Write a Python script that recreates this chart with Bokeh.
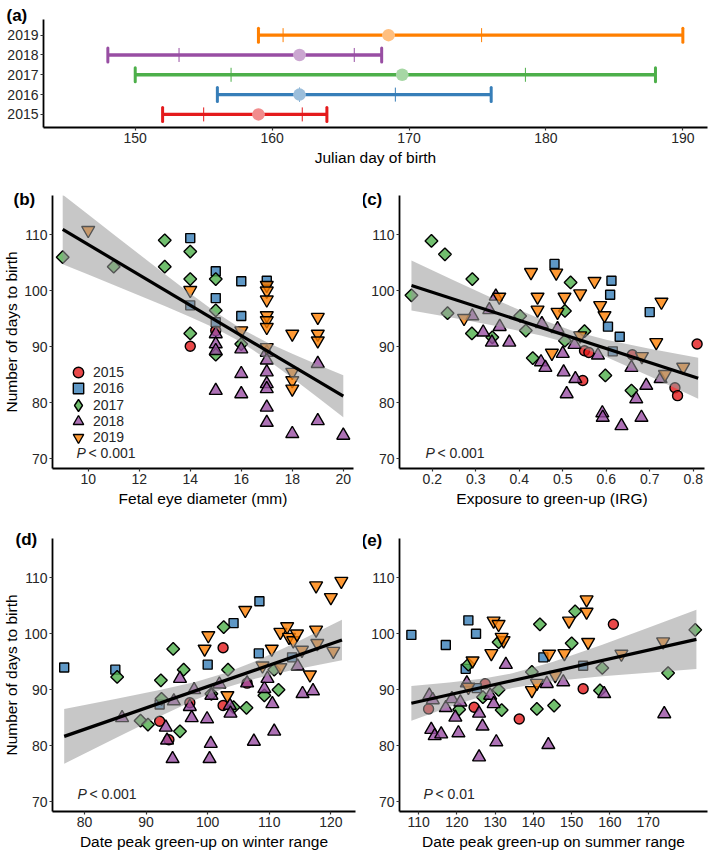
import math
from bokeh.plotting import figure
from bokeh.layouts import column, row
from bokeh.models import Range1d, FixedTicker, Label, Legend, LegendItem
from bokeh.core.properties import value
from bokeh.embed import file_html
from bokeh.resources import INLINE

FONT = "Liberation Sans"
TXT = "#262626"

# ---------------- shared categories ----------------
year_labels = ["2015", "2016", "2017", "2018", "2019"]
year_values = [2015, 2016, 2017, 2018, 2019]
year_pos = [1, 2, 3, 4, 5]
year_colors = ["#E41A1C", "#377EB8", "#4DAF4A", "#984EA3", "#FF7F00"]
year_markers = ["circle", "square", "square", "triangle", "inverted_triangle"]
year_angles = [0.0, 0.0, math.pi / 4, 0.0, 0.0]
year_sizes = [10, 9, 9, 13, 13]
legend_markers = ["circle", "square", "diamond", "triangle", "inverted_triangle"]
legend_boxes = [26, 26, 30, 26, 26]

# ---------------- panel (a): Julian day of birth ----------------
birth_min = [152, 156, 150, 148, 159]
birth_q1 = [155, 162, 157, 153.2, 160.8]
birth_med = [159, 162, 169.5, 162, 168.5]
birth_q3 = [162.2, 169, 178.5, 166, 175.3]
birth_max = [164, 176, 188, 168, 190]
birth_ticks = [150, 160, 170, 180, 190]

days_ticks = [70, 80, 90, 100, 110]

# ---------------- panel (b): fetal eye diameter ----------------
eye_mm = [14, 15,
          14, 14, 15, 15, 15, 16, 16, 17,
          9, 11, 13, 13, 14, 14, 14, 15, 15, 15, 16,
          15, 15, 15, 15, 16, 16, 16, 17, 17, 17, 17, 17, 17, 17, 18, 19, 19, 20,
          10, 14, 16, 17, 17, 17, 17, 17, 17, 17, 18, 18, 18, 18, 19, 19, 19]
days_b = [90.1, 92.9,
          109.4, 97.4, 103.5, 98.7, 94.4, 101.7, 95.5, 101.8,
          106.0, 104.3, 109.0, 104.3, 107.0, 102.1, 92.4, 102.1, 96.5, 88.6, 90.5,
          92.3, 90.5, 89.3, 82.2, 89.6, 85.2, 81.6, 89.0, 87.6, 85.5, 83.4, 82.5, 79.2, 76.5, 74.5, 87.0, 76.8, 74.2,
          110.8, 100.1, 92.9, 101.0, 100.0, 98.4, 95.6, 94.7, 93.5, 89.9, 92.3, 85.5, 84.0, 82.5, 95.3, 92.3, 91.1]
year_b = [2015] * 2 + [2016] * 8 + [2017] * 11 + [2018] * 18 + [2019] * 17
eye_fit_x = [9, 20]
eye_fit_y = [110.95, 81.2]
eye_band_x = [9, 10, 11, 12, 13, 14, 15, 16, 17, 18, 19, 20]
eye_band_lo = [104.75, 102.9, 101.05, 99.18, 97.28, 95.34, 93.26, 90.82, 87.8, 84.45, 80.97, 77.45]
eye_band_hi = [117.15, 113.6, 110.03, 106.5, 102.98, 99.52, 96.18, 93.22, 90.82, 88.77, 86.83, 84.95]
eye_ticks = [10, 12, 14, 16, 18, 20]

# ---------------- panel (c): IRG exposure ----------------
irg = [0.55, 0.56, 0.546, 0.66, 0.758, 0.764, 0.809,
       0.481, 0.612, 0.609, 0.604, 0.631, 0.615, 0.70,
       0.152, 0.198, 0.229, 0.235, 0.292, 0.291, 0.338, 0.402, 0.415, 0.431, 0.505, 0.505, 0.518, 0.55, 0.598, 0.658,
       0.292, 0.317, 0.337, 0.346, 0.331, 0.355, 0.377, 0.452, 0.45, 0.46, 0.488, 0.502, 0.50, 0.509, 0.527, 0.529,
       0.581, 0.591, 0.592, 0.635, 0.658, 0.669, 0.681, 0.692, 0.725,
       0.273, 0.354, 0.427, 0.442, 0.442, 0.485, 0.488, 0.475, 0.504, 0.54, 0.54, 0.573, 0.586, 0.596, 0.682,
       0.715, 0.727, 0.735, 0.777]
days_c = [89.3, 89.0, 84.0, 88.6, 82.7, 81.3, 90.5,
          104.8, 101.8, 99.3, 93.6, 91.8, 89.2, 96.2,
          99.2, 108.9, 106.5, 96.0, 102.1, 92.4, 91.7, 95.5, 92.9, 88.0, 96.4, 91.1, 101.5, 92.8, 84.9, 82.2,
          95.5, 92.6, 90.8, 99.0, 96.6, 93.6, 90.8, 94.1, 87.3, 86.3, 93.2, 85.5, 88.8, 81.6, 90.4, 84.3,
          88.5, 78.2, 77.4, 75.9, 86.3, 80.7, 77.4, 83.1, 84.3,
          95.1, 98.9, 103.3, 98.9, 96.6, 103.2, 96.2, 88.9, 98.9, 99.5, 92.0, 101.7, 97.4, 95.6, 88.3,
          90.8, 98.0, 85.1, 86.4]
year_c = [2015] * 7 + [2016] * 7 + [2017] * 16 + [2018] * 25 + [2019] * 19
irg_fit_x = [0.152, 0.8115]
irg_fit_y = [100.95, 84.4]
irg_band_x = [0.152, 0.25, 0.35, 0.45, 0.52, 0.6, 0.7, 0.8115]
irg_band_lo = [96.5, 95.13, 93.68, 92.03, 90.51, 88.17, 84.75, 80.75]
irg_band_hi = [105.4, 101.85, 98.28, 94.91, 92.91, 91.25, 89.65, 88.05]
irg_ticks = [0.2, 0.3, 0.4, 0.5, 0.6, 0.7, 0.8]

# ---------------- panel (d): peak green-up, winter range ----------------
winter = [92.2, 93.7, 97.1, 102.5, 102.5, 106.4,
          76.7, 85.0, 92.2, 100.0, 104.2, 108.3, 108.4, 113.7,
          85.3, 89.1, 90.3, 92.4, 92.5, 94.4, 95.5, 96.1, 100.6, 102.6, 103.3, 104.2, 106.3, 109.2, 110.8, 111.5,
          86.1, 93.2, 93.4, 94.3, 94.5, 95.5, 97.1, 97.4, 97.8, 99.9, 100.3, 100.5, 100.6, 101.9, 103.6, 103.7,
          106.4, 107.5, 109.2, 109.7, 110.5, 110.8, 114.6, 115.4, 117.1,
          99.5, 100.1, 103.2, 106.1, 108.9, 110.4, 111.8, 111.8, 112.9, 113.2, 113.9, 115.3, 117.6, 117.6, 117.8,
          116.6, 120.0, 120.4, 121.7, 114.5]
days_d = [84.4, 81.1, 87.7, 97.5, 87.2, 91.2,
          94.0, 93.6, 87.4, 94.5, 101.9, 96.5, 105.8, 95.8,
          92.3, 84.5, 83.8, 91.7, 88.4, 97.3, 82.6, 93.6, 89.3, 101.2, 93.6, 86.9, 86.8, 89.0, 93.6, 90.0,
          85.0, 83.3, 81.0, 77.7, 88.0, 92.0, 87.0, 85.0, 90.0, 84.8, 77.7, 80.4, 89.0, 91.0, 87.2, 85.8,
          91.2, 80.8, 90.2, 92.0, 87.5, 82.6, 94.2, 89.3, 89.8,
          97.3, 99.7, 89.0, 104.2, 94.3, 97.3, 100.3, 94.0, 101.3, 99.4, 98.8, 97.1, 108.6, 100.7, 98.3,
          92.7, 106.5, 96.9, 109.4, 100.0]
year_d = [2015] * 6 + [2016] * 8 + [2017] * 16 + [2018] * 25 + [2019] * 20
winter_fit_x = [76.7, 121.8]
winter_fit_y = [81.7, 98.9]
winter_band_x = [76.7, 85, 92, 98, 103, 108, 114, 121.8]
winter_band_lo = [76.8, 81.38, 85.17, 88.24, 90.44, 92.08, 93.59, 95.3]
winter_band_hi = [86.6, 88.36, 89.91, 91.42, 93.04, 95.22, 98.29, 102.5]
winter_ticks = [80, 90, 100, 110, 120]

# ---------------- panel (e): peak green-up, summer range ----------------
summer = [112.6, 124.5, 127.4, 136.3, 153.0, 160.9,
          108.1, 117.1, 123.0, 125.0, 122.3, 125.2, 142.6, 153.0,
          123.0, 120.6, 126.8, 130.9, 130.9, 131.7, 139.6, 140.9, 141.7, 145.4, 150.0, 150.9, 157.4, 158.0, 175.2, 182.3,
          112.8, 113.7, 113.3, 114.2, 115.9, 117.1, 118.7, 119.6, 120.4, 120.9, 122.6, 125.8, 126.7, 125.8, 128.7,
          129.6, 130.3, 132.8, 143.5, 143.9, 147.8, 158.5, 174.2,
          123.0, 124.1, 129.0, 129.6, 130.9, 132.2, 131.7, 139.6, 140.9, 144.1, 145.7, 148.1, 149.3, 153.9, 153.9,
          154.3, 163.0, 173.9]
days_e = [86.6, 86.9, 91.1, 84.8, 90.2, 101.7,
          99.8, 98.0, 102.4, 100.0, 93.75, 90.3, 95.8, 94.3,
          94.5, 86.5, 88.7, 98.5, 90.0, 86.4, 93.2, 86.6, 101.7, 87.2, 98.3, 104.0, 89.9, 93.9, 93.0, 100.7,
          89.0, 88.2, 82.9, 81.8, 82.1, 86.8, 88.4, 85.1, 82.3, 87.8, 91.2, 85.8, 83.5, 78.0, 89.0,
          87.5, 80.7, 94.5, 91.1, 80.2, 91.4, 89.3, 85.7,
          90.5, 95.2, 96.5, 102.3, 101.7, 98.8, 99.4, 89.9, 91.2, 96.4, 92.6, 96.5, 102.3, 106.1, 103.9,
          98.5, 96.4, 98.6]
year_e = [2015] * 6 + [2016] * 8 + [2017] * 16 + [2018] * 23 + [2019] * 18
summer_fit_x = [108.1, 182.6]
summer_fit_y = [87.6, 99.0]
summer_band_x = [108.1, 118, 127, 134.5, 145, 158, 170, 182.6]
summer_band_lo = [84.5, 86.92, 88.96, 90.34, 91.53, 92.41, 93.07, 93.7]
summer_band_hi = [90.7, 91.3, 92.02, 92.94, 94.95, 98.05, 101.07, 104.3]
summer_ticks = [110, 120, 130, 140, 150, 160, 170]


def style_axes(p, xlabel, ylabel):
    for ax in (p.xaxis[0], p.yaxis[0]):
        ax.axis_line_color = "black"
        ax.axis_line_width = 1.8
        ax.major_tick_line_color = "#333333"
        ax.major_tick_line_width = 1.2
        ax.major_tick_out = 3
        ax.major_tick_in = 0
        ax.minor_tick_line_color = None
        ax.major_label_text_font = FONT
        ax.major_label_text_font_size = "14px"
        ax.major_label_text_color = TXT
        ax.axis_label_text_font = FONT
        ax.axis_label_text_font_size = "15.5px"
        ax.axis_label_text_font_style = "normal"
        ax.axis_label_text_color = "black"
        ax.major_label_standoff = 2
        ax.axis_label_standoff = 3
    p.yaxis[0].axis_label_standoff = 1
    p.xaxis[0].axis_label = xlabel
    p.yaxis[0].axis_label = ylabel
    p.xgrid.visible = False
    p.ygrid.visible = False
    p.outline_line_color = None
    p.background_fill_color = "white"
    p.border_fill_color = "white"


def panel_tag(p, text, dx, dy):
    # placed in the panel above the frame so it is not clipped; screen offsets from the frame's top-left
    p.add_layout(Label(x=dx, y=dy, x_units="screen", y_units="screen", text=text,
                       text_font=FONT, text_font_size="17px", text_font_style="bold",
                       text_color="black", text_baseline="middle", text_align="left"), "above")


# ---------------- figure (a) ----------------
a_xr = (143.3, 191.8)
a_yr = (0.34, 5.79)
pa = figure(width=709, height=170, x_range=Range1d(*a_xr), y_range=Range1d(*a_yr),
            output_backend="svg", toolbar_location=None,
            min_border_left=43, min_border_right=2, min_border_top=16, min_border_bottom=43)
style_axes(pa, "Julian day of birth", None)
pa.xaxis[0].ticker = FixedTicker(ticks=birth_ticks)
pa.yaxis[0].ticker = FixedTicker(ticks=year_pos)
pa.yaxis[0].major_label_overrides = {pos: lab for pos, lab in zip(year_pos, year_labels)}
pa.segment(x0=birth_min, y0=year_pos, x1=birth_max, y1=year_pos, line_color=year_colors, line_width=3.4)
pa.scatter(x=birth_min + birth_max, y=year_pos + year_pos, marker="dash", angle=math.pi / 2, size=14,
           line_color=year_colors + year_colors, line_width=3, line_cap="round")
pa.scatter(x=birth_q1 + birth_q3, y=year_pos + year_pos, marker="dash", angle=math.pi / 2, size=14,
           line_color=year_colors + year_colors, line_width=1)
pa.scatter(x=birth_med, y=year_pos, marker="circle", size=12.5, fill_color="white", line_color=None)
pa.scatter(x=birth_med, y=year_pos, marker="circle", size=12.5, fill_color=year_colors, fill_alpha=0.5,
           line_color=None)
panel_tag(pa, "(a)", -37, 4)

days_range = (68.3, 117.0)
LEG_ROW = 16.2


def scatter_panel(xs, ys, yrs, xr, ticks, xlabel, ylabel, width, height, borders,
                  fit_x, fit_y, band_x, band_lo, band_hi, tag, tag_dx, tag_dy, ptext, p_dx, p_dy,
                  legend_xy=None):
    left, right, top, bottom = borders
    p = figure(width=width, height=height, x_range=Range1d(*xr), y_range=Range1d(*days_range),
               output_backend="svg", toolbar_location=None,
               min_border_left=left, min_border_right=right, min_border_top=top, min_border_bottom=bottom)
    style_axes(p, xlabel, ylabel)
    p.xaxis[0].ticker = FixedTicker(ticks=ticks)
    p.yaxis[0].ticker = FixedTicker(ticks=days_ticks)
    groups = []
    for k, yv in enumerate(year_values):
        sx = [x for x, g in zip(xs, yrs) if g == yv]
        sy = [y for y, g in zip(ys, yrs) if g == yv]
        groups.append((sx, sy))
        p.scatter(sx, sy, marker=year_markers[k], size=year_sizes[k], angle=year_angles[k],
                  fill_color=year_colors[k], fill_alpha=0.8, line_color="black", line_width=1.4)
    p.varea(x=band_x, y1=band_lo, y2=band_hi, fill_color="#999999", fill_alpha=0.55)
    p.line(fit_x, fit_y, line_color="black", line_width=3.2)
    panel_tag(p, tag, tag_dx, tag_dy)
    p.add_layout(Label(x=xr[0], y=days_range[0], x_offset=p_dx, y_offset=p_dy, text="P",
                       text_font=FONT, text_font_size="14px", text_font_style="italic",
                       text_color=TXT, text_baseline="middle"))
    p.add_layout(Label(x=xr[0], y=days_range[0], x_offset=p_dx + 12, y_offset=p_dy, text=ptext,
                       text_font=FONT, text_font_size="14px",
                       text_color=TXT, text_baseline="middle"))
    if legend_xy is not None:
        lx, ly = legend_xy
        n = len(year_labels)
        for k, lab in enumerate(year_labels):
            sx, sy = groups[k]
            # key renderer: one point of the group drawn at zero size, used only for the legend key shape
            key = p.scatter(sx[:1], sy[:1], marker=legend_markers[k], size=0, fill_color=year_colors[k],
                            fill_alpha=0.8, line_color="black", line_width=1.4)
            box = legend_boxes[k]
            extra = (box - 26) // 2
            lg = Legend(items=[LegendItem(label=value(lab), renderers=[key])],
                        location=(lx - extra, round(ly + (n - 1 - k) * LEG_ROW) - extra),
                        orientation="vertical",
                        glyph_width=box, glyph_height=box, label_height=16, spacing=0,
                        padding=0, margin=0, label_standoff=2 - extra,
                        label_text_font=FONT, label_text_font_size="14px", label_text_color=TXT,
                        background_fill_alpha=0, border_line_color=None)
            p.add_layout(lg)
    return p


YT = "Number of days to birth"
pb = scatter_panel(eye_mm, days_b, year_b, (8.6, 20.4), eye_ticks, "Fetal eye diameter (mm)", YT,
                   363, 342, (48, 10, 25, 44), eye_fit_x, eye_fit_y, eye_band_x, eye_band_lo, eye_band_hi,
                   "(b)", -39, -4, "< 0.001", 24, 16, legend_xy=(13, 18))
pc = scatter_panel(irg, days_c, year_c, (0.1245, 0.826), irg_ticks, "Exposure to green-up (IRG)", None,
                   346, 342, (36, 5, 25, 44), irg_fit_x, irg_fit_y, irg_band_x, irg_band_lo, irg_band_hi,
                   "(c)", -38, -4, "< 0.001", 26, 16)
pd_ = scatter_panel(winter, days_d, year_d, (74.8, 124.0), winter_ticks, "Date peak green-up on winter range", YT,
                    363, 342, (48, 8, 26, 43), winter_fit_x, winter_fit_y, winter_band_x, winter_band_lo,
                    winter_band_hi, "(d)", -37, -1, "< 0.001", 25, 18)
pe = scatter_panel(summer, days_e, year_e, (105.0, 185.5), summer_ticks, "Date peak green-up on summer range", None,
                   346, 342, (36, 2, 26, 43), summer_fit_x, summer_fit_y, summer_band_x, summer_band_lo,
                   summer_band_hi, "(e)", -38, -2, "< 0.01", 24, 18)

layout = column(pa, row(pb, pc), row(pd_, pe))
open("out.html", "w").write(file_html(layout, INLINE))
